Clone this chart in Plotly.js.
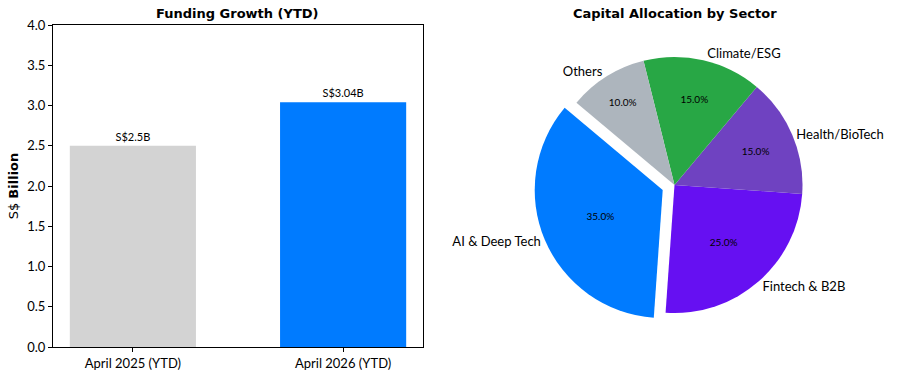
<!DOCTYPE html>
<html>
<head>
<meta charset="utf-8">
<script src="https://cdn.plot.ly/plotly-3.0.1.min.js"></script>
<style>html,body{margin:0;padding:0;background:#fff;}#chart{width:900px;height:375px;}</style>
</head>
<body>
<div id="chart"></div>
<script>
// ---- data ----
const barCategories = ["April 2025 (YTD)", "April 2026 (YTD)"];
const barValues = [2.5, 3.04];
const barColors = ["#D3D3D3", "#007BFF"];
const yTickValues = [0, 0.5, 1, 1.5, 2, 2.5, 3, 3.5, 4];

const sectorLabels = ["AI & Deep Tech", "Fintech & B2B", "Health/BioTech", "Climate/ESG", "Others"];
const sectorValues = [35, 25, 15, 15, 10];
const sectorColors = ["#007BFF", "#6610F2", "#6F42C1", "#28A745", "#ADB5BD"];
const sectorPull = [0.1, 0, 0, 0, 0];

// ---- layout helpers ----
const W = 900, H = 375;
const px = v => v / W;
const py = v => 1 - v / H;
const tickFont = {family: "Lato, 'Open Sans', sans-serif", size: 13, color: "#000"};

// pie geometry (px)
const pieCx = 674.5, pieCy = 185, pieR = 128;
const half = pieR * 1.1;
const pieDomain = {x: [px(pieCx - half), px(pieCx + half)], y: [py(pieCy + half), py(pieCy - half)]};

const barTrace = {
  type: "bar",
  x: barCategories.map((_, i) => i),
  y: barValues,
  width: 0.6,
  marker: {color: barColors, line: {width: 0}},
  text: barValues.map(v => "S$" + v + "B"),
  textposition: "outside",
  textfont: {family: "Lato, 'Open Sans', sans-serif", size: 11, color: "#000"},
  cliponaxis: false,
  hoverinfo: "skip",
  xaxis: "x", yaxis: "y"
};

const pieCommon = {
  type: "pie",
  labels: sectorLabels,
  values: sectorValues,
  sort: false,
  direction: "counterclockwise",
  rotation: -176,
  pull: sectorPull,
  domain: pieDomain,
  hoverinfo: "skip",
  showlegend: false
};

const pieInner = Object.assign({}, pieCommon, {
  marker: {colors: sectorColors, line: {width: 0}},
  textinfo: "percent",
  texttemplate: "%{percent:.1%}",
  textposition: "inside",
  insidetextorientation: "horizontal",
  insidetextfont: {family: "Lato, 'Open Sans', sans-serif", size: 10, color: "#000"}
});

const pieOuter = Object.assign({}, pieCommon, {
  marker: {colors: sectorColors.map(() => "rgba(0,0,0,0)"), line: {width: 0}},
  textinfo: "label",
  textposition: "outside",
  outsidetextfont: {family: "Lato, 'Open Sans', sans-serif", size: 13, color: "#000"}
});

const layout = {
  width: W, height: H,
  margin: {l: 0, r: 0, t: 0, b: 0},
  paper_bgcolor: "#fff", plot_bgcolor: "#fff",
  showlegend: false,
  xaxis: {
    domain: [px(53), px(423)],
    range: [-0.38, 1.38],
    tickvals: barCategories.map((_, i) => i),
    ticktext: barCategories,
    ticks: "outside", ticklen: 4, tickcolor: "#000",
    showgrid: false, zeroline: false,
    showline: true, linecolor: "#000", linewidth: 1, mirror: true,
    tickfont: tickFont
  },
  yaxis: {
    domain: [py(347), py(25)],
    range: [0, 4],
    tickvals: yTickValues,
    tickformat: ".1f",
    ticks: "outside", ticklen: 4, tickcolor: "#000",
    showgrid: false, zeroline: false,
    showline: true, linecolor: "#000", linewidth: 1, mirror: true,
    tickfont: tickFont,
    title: {text: "S$ <b>Billion</b>", font: {family: "'DejaVu Sans', sans-serif", size: 13, color: "#000"}, standoff: 5}
  },
  annotations: [
    {text: "<b>Funding Growth (YTD)</b>", xref: "paper", yref: "paper", x: px(238), y: py(14),
     xanchor: "center", yanchor: "middle", showarrow: false,
     font: {family: "'DejaVu Sans', sans-serif", size: 13, color: "#000"}},
    {text: "<b>Capital Allocation by Sector</b>", xref: "paper", yref: "paper", x: px(675), y: py(14),
     xanchor: "center", yanchor: "middle", showarrow: false,
     font: {family: "'DejaVu Sans', sans-serif", size: 13, color: "#000"}}
  ]
};

Plotly.newPlot("chart", [barTrace, pieInner, pieOuter], layout, {staticPlot: true, displayModeBar: false});
</script>
</body>
</html>
